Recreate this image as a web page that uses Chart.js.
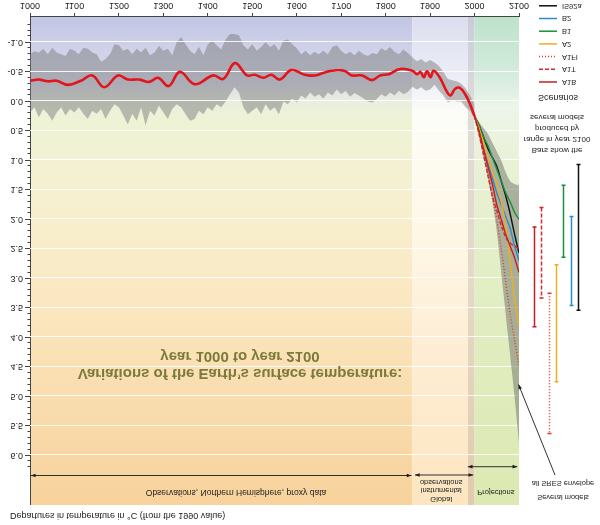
<!DOCTYPE html>
<html>
<head>
<meta charset="utf-8">
<script src="https://cdn.jsdelivr.net/npm/chart.js@4.4.1/dist/chart.umd.min.js"></script>
<style>
  html, body { margin: 0; padding: 0; background: #fff; }
  /* the reference is printed upside down, so the whole canvas is mirrored vertically */
  #temp-chart { display: block; transform: scaleY(-1); }
</style>
</head>
<body>
<canvas id="temp-chart" width="600" height="525"></canvas>
<script>
var xTicks = [1000, 1100, 1200, 1300, 1400, 1500, 1600, 1700, 1800, 1900, 2000, 2100];
var yTicks = [-1.0, -0.5, 0.0, 0.5, 1.0, 1.5, 2.0, 2.5, 3.0, 3.5, 4.0, 4.5, 5.0, 5.5, 6.0];

// smoothed northern hemisphere curve (red)
var histYears = [1000, 1020, 1040, 1060, 1085, 1115, 1140, 1167, 1198, 1220,
                 1245, 1268, 1288, 1312, 1337, 1371, 1412, 1435, 1461, 1488,
                 1506, 1525, 1543, 1562, 1588, 1618, 1641, 1663, 1680, 1706,
                 1724, 1747, 1769, 1788, 1807, 1833, 1860, 1871, 1878, 1886,
                 1893, 1901, 1908, 1922, 1938, 1946, 1956, 1967, 1979, 1990, 2000];
var histTemps = [-0.35, -0.37, -0.34, -0.35, -0.28, -0.35, -0.44, -0.24, -0.44, -0.37,
                 -0.37, -0.33, -0.40, -0.26, -0.50, -0.29, -0.44, -0.38, -0.65, -0.44,
                 -0.45, -0.40, -0.45, -0.37, -0.53, -0.45, -0.44, -0.49, -0.52, -0.52,
                 -0.44, -0.44, -0.36, -0.44, -0.46, -0.55, -0.52, -0.46, -0.50, -0.41,
                 -0.51, -0.41, -0.52, -0.40, -0.16, -0.10, -0.21, -0.23, -0.12, 0.05, 0.25];

// grey spread of the yearly proxy / instrumental values
var bandYears = [1000, 1010, 1020, 1030, 1040, 1050, 1060, 1070, 1080, 1090,
                 1100, 1110, 1120, 1130, 1140, 1150, 1160, 1170, 1180, 1190,
                 1200, 1210, 1220, 1230, 1240, 1250, 1260, 1270, 1280, 1290,
                 1300, 1310, 1320, 1330, 1340, 1350, 1360, 1370, 1380, 1390,
                 1400, 1410, 1420, 1430, 1440, 1450, 1460, 1470, 1480, 1490,
                 1500, 1510, 1520, 1530, 1540, 1550, 1560, 1570, 1580, 1590,
                 1600, 1610, 1620, 1630, 1640, 1650, 1660, 1670, 1680, 1690,
                 1700, 1710, 1720, 1730, 1740, 1750, 1760, 1770, 1780, 1790,
                 1800, 1810, 1820, 1830, 1840, 1850, 1860, 1870, 1880, 1890,
                 1900, 1910, 1920, 1930, 1940, 1950, 1960, 1970, 1980, 1990, 2000];
var bandCool = [-0.80, -0.85, -0.83, -0.89, -0.80, -0.91, -0.83, -0.80, -0.77, -0.89,
                -0.86, -0.80, -0.91, -0.89, -0.83, -0.80, -0.67, -0.72, -0.80, -0.97,
                -0.95, -0.86, -0.89, -0.80, -0.89, -0.83, -0.91, -0.78, -0.83, -0.94,
                -0.86, -0.89, -0.78, -1.00, -1.09, -0.97, -0.86, -0.80, -0.92, -0.78,
                -0.97, -1.03, -0.95, -0.88, -1.05, -1.14, -1.14, -1.12, -0.95, -0.88,
                -0.97, -0.86, -0.92, -1.00, -0.92, -0.97, -0.86, -1.03, -1.05, -0.97,
                -0.90, -0.80, -0.86, -0.78, -0.84, -0.80, -0.86, -0.80, -0.92, -0.95,
                -0.86, -0.80, -0.84, -0.78, -0.86, -0.80, -0.77, -0.82, -0.80, -0.90,
                -0.86, -0.92, -0.84, -0.80, -0.88, -0.82, -0.75, -0.68, -0.72, -0.66,
                -0.70, -0.66, -0.60, -0.50, -0.38, -0.36, -0.34, -0.30, -0.22, -0.10, 0.05];
var bandWarm = [0.19, 0.10, 0.27, 0.13, 0.21, 0.33, 0.19, 0.10, 0.24, 0.13,
                0.19, 0.10, 0.21, 0.30, 0.16, 0.21, 0.13, 0.30, 0.16, 0.05,
                0.10, 0.24, 0.39, 0.21, 0.33, 0.10, 0.41, 0.16, 0.24, 0.07,
                0.19, 0.30, 0.13, 0.05, 0.10, 0.22, 0.33, 0.30, 0.16, 0.22,
                0.10, 0.16, 0.05, 0.10, 0.00, -0.12, -0.24, -0.15, 0.10, 0.22,
                0.16, 0.10, 0.22, 0.05, 0.16, 0.10, 0.22, 0.00, 0.05, -0.05,
                0.02, -0.10, -0.05, -0.15, -0.08, -0.12, -0.05, -0.15, -0.10, -0.20,
                -0.12, -0.18, -0.08, -0.14, -0.10, -0.05, 0.00, 0.02, -0.04, -0.12,
                -0.08, -0.15, -0.10, -0.18, -0.12, -0.16, -0.25, -0.20, -0.24, -0.18,
                -0.20, -0.28, -0.18, -0.10, 0.02, -0.02, 0.00, 0.00, 0.10, 0.16, 0.30];

// projections 2000-2100
var projYears = [2000, 2010, 2020, 2030, 2040, 2050, 2060, 2070, 2080, 2090, 2100];
var scenarioNames = ['A1B', 'A1T', 'A1FI', 'A2', 'B1', 'B2', 'IS92a'];
var a1b  = [0.25, 0.50, 0.80, 1.10, 1.40, 1.75, 2.00, 2.25, 2.45, 2.65, 2.90];
var a1t  = [0.25, 0.55, 0.90, 1.25, 1.60, 1.85, 2.10, 2.30, 2.40, 2.45, 2.50];
var a1fi = [0.25, 0.50, 0.85, 1.20, 1.60, 2.00, 2.50, 3.05, 3.60, 4.05, 4.50];
var a2   = [0.25, 0.45, 0.70, 0.95, 1.20, 1.40, 1.70, 2.10, 2.70, 3.35, 3.80];
var b1   = [0.25, 0.40, 0.60, 0.75, 0.95, 1.15, 1.35, 1.55, 1.70, 1.88, 2.00];
var b2   = [0.25, 0.50, 0.80, 1.05, 1.30, 1.55, 1.75, 1.95, 2.15, 2.45, 2.70];
var is92a = [0.25, 0.40, 0.60, 0.80, 0.95, 1.10, 1.35, 1.60, 1.90, 2.25, 2.57];
var scenarioTemps = [a1b, a1t, a1fi, a2, b1, b2, is92a];

// all SRES envelope
var envCool = [0.25, 0.35, 0.45, 0.55, 0.70, 0.85, 1.00, 1.20, 1.35, 1.40, 1.42];
var envWarm = [0.25, 0.60, 0.95, 1.30, 1.70, 2.20, 2.90, 3.60, 4.30, 5.00, 5.80];

// bars: range in year 2100 from several models
var rangeLow  = [2.13, 1.80, 3.25, 2.77, 1.42, 1.95, 1.07];
var rangeHigh = [3.82, 3.33, 5.63, 4.75, 2.64, 3.46, 3.54];

var scenarioColors = ['#c41e24', '#d9262b', '#e0392f', '#f0ae1e', '#17903c', '#2a8bd2', '#111111'];
var scenarioDash = [[], [4, 2], [1, 2], [], [], [], []];

var FONT = '"Liberation Sans", Arial, sans-serif';
Chart.defaults.font.family = FONT;

function pts(xs, ys) {
  return xs.map(function (x, i) { return {x: x, y: ys[i]}; });
}

var datasets = [
  {label: 'band cool', data: pts(bandYears, bandCool), borderColor: 'rgba(0,0,0,0)', borderWidth: 1, pointRadius: 0, fill: false, order: 10},
  {label: 'band warm', data: pts(bandYears, bandWarm), borderColor: 'rgba(0,0,0,0)', borderWidth: 1, pointRadius: 0, fill: '-1',
   backgroundColor: 'rgba(118,118,118,0.47)', order: 10},
  {label: 'env cool', data: pts(projYears, envCool), borderColor: 'rgba(0,0,0,0)', borderWidth: 1, pointRadius: 0, tension: 0.3, fill: false, order: 5},
  {label: 'env warm', data: pts(projYears, envWarm), borderColor: 'rgba(0,0,0,0)', borderWidth: 1, pointRadius: 0, tension: 0.3, fill: '-1',
   backgroundColor: 'rgba(110,112,105,0.5)', order: 5}
];
scenarioNames.forEach(function (name, i) {
  datasets.push({
    label: name,
    data: pts(projYears, scenarioTemps[i]),
    borderColor: scenarioColors[i],
    borderDash: scenarioDash[i],
    borderWidth: 1.4,
    pointRadius: 0,
    tension: 0.3,
    fill: false,
    order: 2
  });
});
datasets.push({
  label: 'Northern Hemisphere',
  data: pts(histYears, histTemps),
  borderColor: '#e3141c',
  borderWidth: 2.6,
  pointRadius: 0,
  tension: 0.4,
  fill: false,
  order: 0
});

// background colour columns: proxy, instrumental, grey strip, projections
var regions = [
  {from: 1000, to: 1860, stops: [[6.84, '#f7d29c'], [4.5, '#fae0b4'], [3.0, '#fbeac6'], [1.5, '#f6f0d0'], [0.3, '#eef3d6'], [0.0, '#e9eedf'], [-0.3, '#dadded'], [-1.43, '#c3c6e3']]},
  {from: 1860, to: 1985, stops: [[6.84, '#fde5c0'], [4.0, '#feeed6'], [2.0, '#fef8e8'], [0.2, '#fdfdf8'], [-0.3, '#eeeff7'], [-1.43, '#dcdef0']]},
  {from: 1985, to: 2000, stops: [[6.84, '#e2cbac'], [3.0, '#e4dac6'], [0.0, '#dcdcd8'], [-1.43, '#c9cbd9']]},
  {from: 2000, to: 2100, stops: [[6.84, '#dce9b2'], [3.0, '#e2eec4'], [1.0, '#e9f2d6'], [0.1, '#eef5ea'], [-0.4, '#d6ecdf'], [-1.43, '#bde2ca']]}
];

function label(ctx, s, x, y, size, opts) {
  opts = opts || {};
  ctx.font = (opts.bold ? 'bold ' : '') + size + 'px ' + FONT;
  ctx.fillStyle = opts.color || '#1c1c1c';
  ctx.textAlign = opts.align || 'center';
  ctx.textBaseline = 'middle';
  if (opts.maxWidth) ctx.fillText(s, x, y, opts.maxWidth); else ctx.fillText(s, x, y);
}

function head(ctx, x, y, ang) {
  ctx.beginPath();
  ctx.moveTo(x, y);
  ctx.lineTo(x - 5 * Math.cos(ang - 0.38), y - 5 * Math.sin(ang - 0.38));
  ctx.lineTo(x - 5 * Math.cos(ang + 0.38), y - 5 * Math.sin(ang + 0.38));
  ctx.closePath();
  ctx.fill();
}

function arrow(ctx, x0, y0, x1, y1, both) {
  ctx.beginPath();
  ctx.moveTo(x0, y0);
  ctx.lineTo(x1, y1);
  ctx.stroke();
  var ang = Math.atan2(y1 - y0, x1 - x0);
  head(ctx, x1, y1, ang);
  if (both) head(ctx, x0, y0, ang + Math.PI);
}

var decor = {
  id: 'decor',
  beforeDraw: function (chart) {
    var ctx = chart.ctx, a = chart.chartArea, x = chart.scales.x, y = chart.scales.y;
    ctx.save();
    ctx.fillStyle = '#fff';
    ctx.fillRect(0, 0, chart.width, chart.height);
    regions.forEach(function (r) {
      var g = ctx.createLinearGradient(0, a.top, 0, a.bottom);
      r.stops.forEach(function (s) {
        var p = (y.getPixelForValue(s[0]) - a.top) / a.height;
        g.addColorStop(Math.min(1, Math.max(0, p)), s[1]);
      });
      var x0 = x.getPixelForValue(r.from), x1 = x.getPixelForValue(r.to);
      ctx.fillStyle = g;
      ctx.fillRect(x0, a.top, x1 - x0, a.height);
    });
    ctx.restore();
  },
  afterDatasetDraw: function (chart, args) {
    if (args.index !== 1) return;
    // white grid lines sit on top of the grey band
    var ctx = chart.ctx, a = chart.chartArea, y = chart.scales.y;
    ctx.save();
    ctx.strokeStyle = 'rgba(255,255,255,0.9)';
    ctx.lineWidth = 1;
    yTicks.forEach(function (v) {
      var py = Math.round(y.getPixelForValue(v)) + 0.5;
      ctx.beginPath();
      ctx.moveTo(a.left, py);
      ctx.lineTo(a.right, py);
      ctx.stroke();
    });
    ctx.restore();
  },
  afterDraw: function (chart) {
    var ctx = chart.ctx, a = chart.chartArea, x = chart.scales.x, y = chart.scales.y;
    ctx.save();

    // minor ticks on the temperature axis
    ctx.strokeStyle = '#444';
    ctx.lineWidth = 1;
    for (var k = -13; k <= 62; k++) {
      if (k % 5 === 0) continue;
      var py = Math.round(y.getPixelForValue(k / 10)) + 0.5;
      ctx.beginPath();
      ctx.moveTo(a.left - 2.5, py);
      ctx.lineTo(a.left, py);
      ctx.stroke();
    }

    // range bars for 2100
    scenarioNames.forEach(function (name, i) {
      var bx = Math.round(a.right + 15 + i * 7.3) + 0.5;
      var y0 = y.getPixelForValue(rangeLow[i]), y1 = y.getPixelForValue(rangeHigh[i]);
      ctx.strokeStyle = scenarioColors[i];
      ctx.lineWidth = 1.5;
      ctx.setLineDash(scenarioDash[i]);
      ctx.beginPath();
      ctx.moveTo(bx, y0);
      ctx.lineTo(bx, y1);
      ctx.stroke();
      ctx.setLineDash([]);
      ctx.beginPath();
      ctx.moveTo(bx - 2, y0); ctx.lineTo(bx + 2, y0);
      ctx.moveTo(bx - 2, y1); ctx.lineTo(bx + 2, y1);
      ctx.stroke();
    });

    // legend
    label(ctx, 'Scenarios', a.right + 39, 428, 9);
    scenarioNames.forEach(function (name, i) {
      var ly = 443 + i * 12.7;
      ctx.strokeStyle = scenarioColors[i];
      ctx.lineWidth = 1.5;
      ctx.setLineDash(scenarioDash[i]);
      ctx.beginPath();
      ctx.moveTo(a.right + 20, ly);
      ctx.lineTo(a.right + 38, ly);
      ctx.stroke();
      ctx.setLineDash([]);
      label(ctx, name, a.right + 43, ly, 7.5, {align: 'left'});
    });

    ['Bars show the', 'range in year 2100', 'produced by', 'several models'].forEach(function (s, i) {
      label(ctx, s, a.right + 38, 375 + i * 10.8, 8);
    });

    // titles and notes
    label(ctx, 'Variations of the Earth\u2019s surface temperature:', 240, 152, 15, {bold: true, color: '#7c7a3a', maxWidth: 326});
    label(ctx, 'year 1000 to year 2100', 240, 168.5, 15, {bold: true, color: '#7c7a3a'});
    label(ctx, 'Departures in temperature in \u00b0C (from the 1990 value)', 10, 10, 9, {align: 'left', maxWidth: 219});

    label(ctx, 'Observations, Northern Hemisphere, proxy data', 236, 33, 8.5);
    label(ctx, 'Global', x.getPixelForValue(1925), 26, 7.5);
    label(ctx, 'instrumental', x.getPixelForValue(1925), 34.5, 7.5);
    label(ctx, 'observations', x.getPixelForValue(1925), 43, 7.5);
    label(ctx, 'Projections', x.getPixelForValue(2048), 33, 7.5);
    label(ctx, 'Several models', a.right + 44, 28, 7.5);
    label(ctx, 'all SRES envelope', a.right + 44, 41.5, 7.5);

    ctx.strokeStyle = '#1c1c1c';
    ctx.fillStyle = '#1c1c1c';
    ctx.lineWidth = 0.9;
    arrow(ctx, x.getPixelForValue(1002), 49.5, x.getPixelForValue(1858), 49.5, true);
    arrow(ctx, x.getPixelForValue(1866), 50, x.getPixelForValue(1997), 50, true);
    arrow(ctx, x.getPixelForValue(1985), 58.3, x.getPixelForValue(2096), 58.3, true);
    arrow(ctx, a.right + 36, 50, x.getPixelForValue(2099), y.getPixelForValue(4.8), false);

    ctx.restore();
  }
};

var chartConfig = {
  type: 'line',
  data: { datasets: datasets },
  options: {
    responsive: false,
    animation: false,
    events: [],
    layout: { padding: { top: 20, right: 81, bottom: 0, left: 0 } },
    plugins: {
      legend: { display: false },
      tooltip: { enabled: false }
    },
    scales: {
      x: {
        type: 'linear',
        min: 1000,
        max: 2100,
        afterFit: function (s) { s.height = 17; },
        afterBuildTicks: function (s) { s.ticks = xTicks.map(function (v) { return {value: v}; }); },
        grid: { drawOnChartArea: false, tickLength: 4, color: '#444' },
        border: { color: '#444' },
        ticks: { padding: 2, color: '#1c1c1c', font: { size: 9 }, maxRotation: 0, autoSkip: false,
                 callback: function (v) { return String(v); } }
      },
      y: {
        type: 'linear',
        min: -1.43,
        max: 6.84,
        afterFit: function (s) { s.width = 30; },
        afterBuildTicks: function (s) { s.ticks = yTicks.map(function (v) { return {value: v}; }); },
        grid: { drawOnChartArea: false, tickLength: 5, color: '#444' },
        border: { color: '#444' },
        ticks: { padding: 2, color: '#1c1c1c', font: { size: 9 },
                 callback: function (v) { return Number(v).toFixed(1); } }
      }
    }
  },
  plugins: [decor]
};

var tempChart = new Chart(document.getElementById('temp-chart').getContext('2d'), chartConfig);
</script>
</body>
</html>
